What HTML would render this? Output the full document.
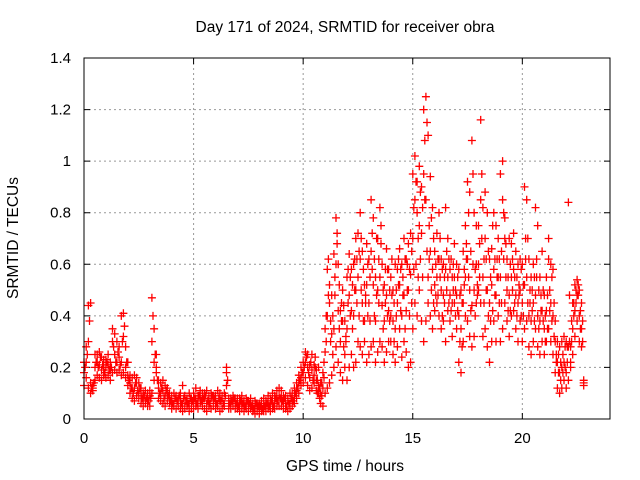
<!DOCTYPE html>
<html><head><meta charset="utf-8"><style>
body{margin:0;background:#fff}
svg{display:block;font-family:"Liberation Sans",sans-serif}
</style></head><body>
<svg id="chart" width="640" height="480" viewBox="0 0 640 480" xmlns="http://www.w3.org/2000/svg">
<rect width="640" height="480" fill="#fff"/>
<text x="345" y="32" text-anchor="middle" font-size="15.5" fill="#000">Day 171 of 2024, SRMTID for receiver obra</text>
<text transform="translate(18,238) rotate(-90)" text-anchor="middle" font-size="15.5" fill="#000">SRMTID / TECUs</text>
<text x="345" y="471" text-anchor="middle" font-size="15.5" fill="#000">GPS time / hours</text>
<g id="grid"></g>
<g id="ticks"></g>
<g id="marks"></g>
<rect x="84" y="58" width="526" height="361" fill="none" stroke="#000" stroke-width="1"/>
</svg>
<script>
const step = 0.1;
const xTicks = [0,5,10,15,20];
const yTicks = [0,0.2,0.4,0.6,0.8,1,1.2,1.4];
const yTickLabels = ["0","0.2","0.4","0.6","0.8","1","1.2","1.4"];
const lo = [.13,.16,.12,.10,.12,.15,.17,.16,.15,.17,
.16,.17,.15,.18,.19,.18,.19,.17,.18,.16,
.13,.10,.08,.07,.09,.08,.06,.05,.06,.05,
.05,.10,.15,.18,.08,.07,.06,.05,.07,.06,
.04,.05,.04,.05,.04,.03,.04,.05,.03,.04,
.04,.05,.04,.06,.05,.04,.03,.05,.04,.05,
.04,.05,.03,.04,.05,.13,.04,.04,.05,.04,
.04,.03,.04,.03,.04,.03,.04,.03,.02,.03,
.02,.03,.03,.03,.04,.03,.04,.04,.05,.05,
.05,.04,.04,.03,.04,.05,.06,.08,.10,.13,
.14,.16,.13,.11,.12,.14,.11,.10,.06,.05,
.10,.12,.14,.17,.20,.28,.22,.18,.15,.20,
.15,.20,.25,.20,.22,.30,.28,.25,.30,.22,
.25,.28,.30,.22,.26,.30,.28,.22,.26,.30,
.30,.25,.22,.28,.35,.24,.30,.26,.20,.22,
.35,.45,.40,.50,.38,.30,.38,.45,.40,.35,
.42,.45,.40,.35,.38,.30,.42,.38,.32,.45,
.35,.22,.18,.30,.40,.38,.32,.28,.32,.45,
.50,.45,.32,.35,.28,.22,.30,.38,.30,.40,
.30,.35,.45,.38,.32,.40,.42,.35,.30,.38,
.30,.35,.38,.28,.25,.30,.35,.28,.25,.30,
.25,.30,.35,.30,.25,.18,.12,.10,.12,.15,
.12,.15,.20,.25,.32,.38,.30,.28,.13];
const mid = [.18,.22,.30,.14,.11,.20,.22,.21,.19,.20,
.20,.21,.19,.30,.25,.22,.24,.22,.32,.20,
.17,.14,.12,.12,.14,.10,.09,.08,.07,.08,
.09,.30,.22,.20,.12,.10,.11,.09,.10,.08,
.07,.06,.08,.06,.07,.06,.05,.08,.06,.06,
.07,.08,.06,.09,.07,.08,.06,.07,.08,.06,
.07,.06,.07,.08,.06,.18,.07,.06,.06,.07,
.06,.05,.07,.05,.06,.05,.06,.05,.04,.05,
.04,.05,.06,.05,.06,.05,.07,.06,.08,.09,
.08,.07,.06,.07,.06,.08,.09,.11,.14,.16,
.18,.22,.20,.16,.19,.17,.15,.13,.10,.12,
.26,.40,.45,.33,.35,.60,.42,.30,.38,.25,
.35,.48,.42,.40,.50,.55,.62,.45,.38,.52,
.45,.65,.52,.38,.50,.55,.44,.38,.48,.42,
.40,.38,.35,.45,.52,.40,.48,.42,.50,.56,
.70,.85,.80,.75,.72,.95,.85,.55,.65,.58,
.52,.55,.62,.50,.48,.58,.55,.48,.45,.55,
.48,.40,.35,.45,.55,.62,.50,.44,.50,.60,
.60,1.16,.55,.70,.50,.45,.52,.58,.48,.55,
.55,1.00,.70,.50,.48,.55,.58,.48,.45,.50,
.45,.52,.55,.40,.38,.45,.48,.40,.38,.42,
.35,.42,.62,.45,.40,.30,.22,.18,.20,.22,
.18,.28,.22,.35,.42,.48,.40,.35,.14];
const hi = [.22,.28,.44,.45,.13,.25,.25,.26,.24,.23,
.23,.25,.22,.35,.33,.30,.28,.40,.41,.28,
.22,.17,.16,.17,.16,.14,.12,.10,.11,.10,
.11,.47,.35,.25,.15,.14,.15,.13,.12,.10,
.09,.10,.09,.08,.10,.13,.09,.07,.10,.08,
.10,.12,.09,.11,.10,.10,.11,.09,.10,.09,
.09,.11,.10,.09,.10,.20,.08,.08,.09,.08,
.08,.08,.09,.07,.08,.07,.08,.06,.07,.06,
.06,.07,.08,.07,.09,.08,.10,.09,.11,.12,
.11,.09,.09,.08,.10,.10,.12,.14,.17,.20,
.22,.26,.25,.21,.25,.21,.19,.20,.14,.18,
.35,.58,.52,.48,.64,.78,.60,.42,.50,.38,
.55,.64,.58,.60,.70,.72,.80,.65,.52,.68,
.62,.85,.78,.55,.70,.82,.60,.52,.66,.58,
.55,.50,.60,.58,.66,.60,.70,.62,.68,.72,
.95,1.02,.92,.98,.90,1.20,1.25,1.10,.94,.82,
.65,.72,.80,.62,.60,.82,.70,.58,.55,.68,
.60,.58,.50,.65,.75,.92,.88,1.08,.80,.75,
.75,.85,.82,.88,.80,.62,.66,.80,.75,.70,
.95,.85,.78,.62,.70,.68,.72,.65,.60,.62,
.60,.90,.85,.62,.55,.60,.82,.75,.55,.65,
.48,.55,.70,.60,.58,.38,.30,.28,.30,.32,
.30,.84,.28,.45,.52,.54,.50,.45,.15];
/* half-step series */
const earlyStart = 0.05;
const early = [.20,.25,.38,.12,.14,.22,.20,.24,.21,.18,
.22,.19,.20,.28,.22,.26,.21,.30,.36,.22,
.15,.12,.10,.14,.11,.12,.08,.09,.08,.07,
.08,.40,.25,.15,.10,.12,.08,.11,.09,.07,
.06,.08,.07,.09,.06,.08,.07,.06,.08,.07,
.08,.06,.09,.07,.08,.09,.07,.06,.09,.08,
.06,.08,.07,.06,.09,.15,.06,.07,.08,.06,
.05,.07,.06,.05,.07,.06,.05,.04,.06,.05,
.05,.04,.05,.06,.05,.07,.05,.08,.07,.08,
.07,.08,.05,.06,.08,.07,.10,.12,.15,.18,
.20,.24,.18,.22,.15];
const lateStart = 10.55;
const lateA = [.20,.15,.12,.09,.16,
.30,.48,.38,.25,.55,.68,.35,.45,.28,.32,
.45,.55,.35,.50,.62,.40,.70,.38,.45,.60,
.55,.72,.40,.48,.62,.68,.35,.58,.40,.50,
.48,.30,.50,.62,.42,.55,.35,.60,.40,.65,
.82,.60,.70,.88,.55,1.08,.65,.75,.50,.45,
.60,.48,.70,.40,.55,.65,.45,.62,.50,.40,
.55,.30,.45,.58,.68,.80,.42,.60,.40,.52,
.68,.95,.45,.62,.40,.55,.75,.48,.62,.45,
.65,.80,.55,.42,.60,.50,.45,.55,.52,.40,
.52,.70,.45,.50,.42,.55,.62,.35,.48,.50,
.40,.35,.50,.55,.32,.25,.18,.22,.25,.28,
.22,.30,.38,.45,.50,.52,.35,.30];
const lateB = [.24,.10,.08,.14,.22,
.40,.62,.30,.40,.48,.72,.52,.38,.44,.30,
.58,.40,.52,.62,.45,.65,.50,.58,.48,.40,
.38,.58,.62,.70,.45,.75,.50,.45,.58,.38,
.62,.45,.40,.52,.58,.48,.62,.50,.58,.45,
.58,.92,.55,.62,.82,.85,1.15,.62,.78,.70,
.48,.62,.55,.58,.45,.50,.62,.42,.60,.50,
.42,.48,.28,.52,.62,.55,.65,.95,.58,.48,
.55,.70,.62,.50,.65,.38,.42,.62,.55,.62,
.45,.62,.68,.55,.42,.62,.55,.40,.48,.58,
.40,.62,.70,.45,.50,.38,.55,.50,.42,.38,
.30,.48,.42,.38,.45,.22,.25,.15,.18,.20,
.28,.48,.30,.40,.45,.48,.42,.38];

const X0=84, X1=610, Y0=419, Y1=58, XMAX=24, YMAX=1.4;
const sx = v => X0 + v/XMAX*(X1-X0);
const sy = v => Y0 - v/YMAX*(Y0-Y1);
const NS="http://www.w3.org/2000/svg";
const grid=document.getElementById('grid'), ticks=document.getElementById('ticks'), marks=document.getElementById('marks');
function mk(tag, attrs, parent){const e=document.createElementNS(NS,tag);for(const k in attrs)e.setAttribute(k,attrs[k]);parent.appendChild(e);return e;}

xTicks.forEach(t=>{
  const x=sx(t);
  if(t>0){const g=mk('line',{x1:x,x2:x,y1:Y1,y2:Y0,stroke:'#999','stroke-dasharray':'2,3','stroke-width':1},grid);
  
  }
  const tk=mk('path',{d:`M${x},${Y0}v-6M${x},${Y1}v6`,stroke:'#000'},ticks);
  
  
  const l=mk('text',{x:x,y:Y0+24,'text-anchor':'middle','font-size':15},ticks);l.textContent=t;
  
  
});
yTicks.forEach((t,i)=>{
  const y=sy(t);
  if(t>0&&t<YMAX){const g=mk('line',{x1:X0,x2:X1,y1:y,y2:y,stroke:'#999','stroke-dasharray':'2,3','stroke-width':1},grid);
  
  }
  const tk=mk('path',{d:`M${X0},${y}h6M${X1},${y}h-6`,stroke:'#000'},ticks);
  
  
  const l=mk('text',{x:X0-13,y:y+5,'text-anchor':'end','font-size':15},ticks);l.textContent=yTickLabels[i];
  
  
});
let d='';
function addSeries(series, start){
  series.forEach((v,i)=>{
    const x=sx(start+i*step), y=sy(v);
    d+=`M${(x-4).toFixed(1)},${y.toFixed(1)}h8M${x.toFixed(1)},${(y-4).toFixed(1)}v8`;
  });
}
addSeries(lo,0); addSeries(mid,0); addSeries(hi,0);
addSeries(early,earlyStart); addSeries(lateA,lateStart); addSeries(lateB,lateStart);
const p=mk('path',{d:d,stroke:'#f00','stroke-width':1.3,fill:'none'},marks);


</script>
</body></html>
